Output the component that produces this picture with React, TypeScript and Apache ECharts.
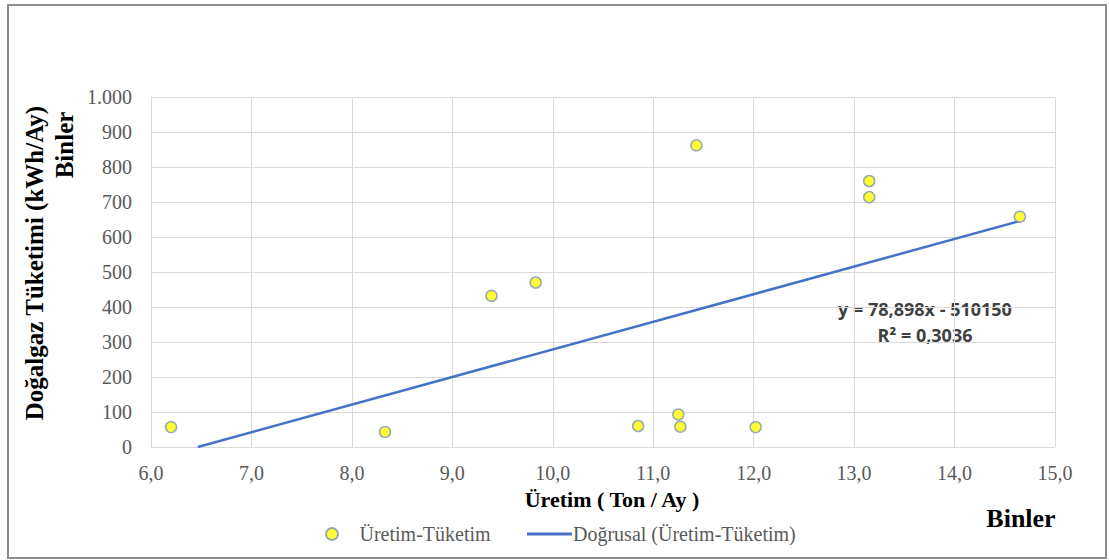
import React, { useEffect, useRef } from "react";
import * as echarts from "echarts";

const productionThousands: number[] = [6.2, 8.33, 9.39, 9.83, 10.85, 11.25, 11.27, 11.43, 12.02, 13.15, 13.15, 14.65];
const consumptionThousands: number[] = [57, 43, 432, 470, 60, 93, 58, 862, 57, 760, 714, 658];
const trendSlope = 78.898; // thousand kWh per thousand ton
const trendIntercept = -510.15; // thousand kWh
const equationLines: string[] = ["y = 78,898x - 510150", "R² = 0,3036"];
const scatterName = "Üretim-Tüketim";
const trendName = "Doğrusal (Üretim-Tüketim)";

export default function App() {
  const ref = useRef<HTMLDivElement>(null);
  useEffect(() => {
    if (!ref.current) return;
    const chart = echarts.init(ref.current, undefined, { renderer: "svg" });
    const points = productionThousands.map((x, i) => [x, consumptionThousands[i]]);
    const minX = Math.min(...productionThousands);
    const maxX = Math.max(...productionThousands);
    const startX = Math.max(minX, -trendIntercept / trendSlope);
    const trend = [startX, maxX].map((x) => [x, trendSlope * x + trendIntercept]);
    const serif = "'Liberation Serif', 'Times New Roman', serif";
    const sans = "'Open Sans', 'Liberation Sans', sans-serif";
    chart.setOption({
      animation: false,
      backgroundColor: "#ffffff",
      grid: { left: 151, right: 54, top: 97, bottom: 113, containLabel: false },
      xAxis: {
        type: "value",
        min: 6,
        max: 15,
        interval: 1,
        axisLine: { show: true, lineStyle: { color: "#d9d9d9", width: 1 } },
        axisTick: { show: false },
        splitLine: { show: true, lineStyle: { color: "#d9d9d9", width: 1 } },
        axisLabel: {
          color: "#595959",
          fontFamily: serif,
          fontSize: 20,
          margin: 16,
          formatter: (v: number) => v.toFixed(1).replace(".", ","),
        },
      },
      yAxis: {
        type: "value",
        min: 0,
        max: 1000,
        interval: 100,
        axisLine: { show: true, lineStyle: { color: "#d9d9d9", width: 1 } },
        axisTick: { show: false },
        splitLine: { show: true, lineStyle: { color: "#d9d9d9", width: 1 } },
        axisLabel: {
          color: "#595959",
          fontFamily: serif,
          fontSize: 20,
          margin: 19,
          formatter: (v: number) => (v >= 1000 ? "1.000" : String(v)),
        },
      },
      legend: [
        {
          data: [{ name: scatterName, icon: "circle" }],
          left: 320,
          top: 519,
          itemWidth: 45,
          itemHeight: 12,
          textStyle: { color: "#595959", fontFamily: serif, fontSize: 20 },
        },
        {
          data: [{ name: trendName, icon: "rect", itemStyle: { color: "#4472c4" } }],
          left: 522,
          top: 519,
          itemWidth: 45,
          itemHeight: 3,
          textStyle: { color: "#595959", fontFamily: serif, fontSize: 20, padding: [0, 0, 0, -4] },
        },
      ],
      series: [
        {
          name: trendName,
          type: "line",
          data: trend,
          symbol: "none",
          lineStyle: { color: "#4472c4", width: 2.5 },
          itemStyle: { color: "#4472c4" },
          z: 2,
        },
        {
          name: scatterName,
          type: "scatter",
          data: points,
          symbol: "circle",
          symbolSize: 11,
          itemStyle: { color: "#ffff00", borderColor: "#7f93b8", borderWidth: 1.5 },
          z: 3,
        },
      ],
      graphic: [
        {
          type: "rect",
          shape: { x: 8, y: 5, width: 1098, height: 553 },
          style: { fill: "none", stroke: "#8c8c8c", lineWidth: 2 },
          z: 0,
        },
        {
          type: "text",
          x: 34,
          y: 263,
          rotation: Math.PI / 2,
          style: {
            text: "Doğalgaz Tüketimi (kWh/Ay)",
            fill: "#000000",
            font: `bold 25px ${serif}`,
            textAlign: "center",
            textVerticalAlign: "middle",
          },
        },
        {
          type: "text",
          x: 64,
          y: 145,
          rotation: Math.PI / 2,
          style: {
            text: "Binler",
            fill: "#000000",
            font: `bold 25px ${serif}`,
            textAlign: "center",
            textVerticalAlign: "middle",
          },
        },
        {
          type: "text",
          x: 612,
          y: 499,
          style: {
            text: "Üretim ( Ton / Ay )",
            fill: "#000000",
            font: `bold 22px ${serif}`,
            textAlign: "center",
            textVerticalAlign: "middle",
          },
        },
        {
          type: "text",
          x: 1021,
          y: 518,
          style: {
            text: "Binler",
            fill: "#000000",
            font: `bold 26px ${serif}`,
            textAlign: "center",
            textVerticalAlign: "middle",
          },
        },
        {
          type: "text",
          x: 925,
          y: 309,
          style: {
            text: equationLines[0],
            fill: "#404040",
            font: `bold 18px ${sans}`,
            textAlign: "center",
            textVerticalAlign: "middle",
          },
        },
        {
          type: "text",
          x: 925,
          y: 335,
          style: {
            text: equationLines[1],
            fill: "#404040",
            font: `bold 18px ${sans}`,
            textAlign: "center",
            textVerticalAlign: "middle",
          },
        },
      ],
    });
    return () => chart.dispose();
  }, []);
  return (
    <div
      ref={ref}
      style={{ position: "fixed", left: 0, top: 0, width: 1109, height: 560 }}
    />
  );
}
